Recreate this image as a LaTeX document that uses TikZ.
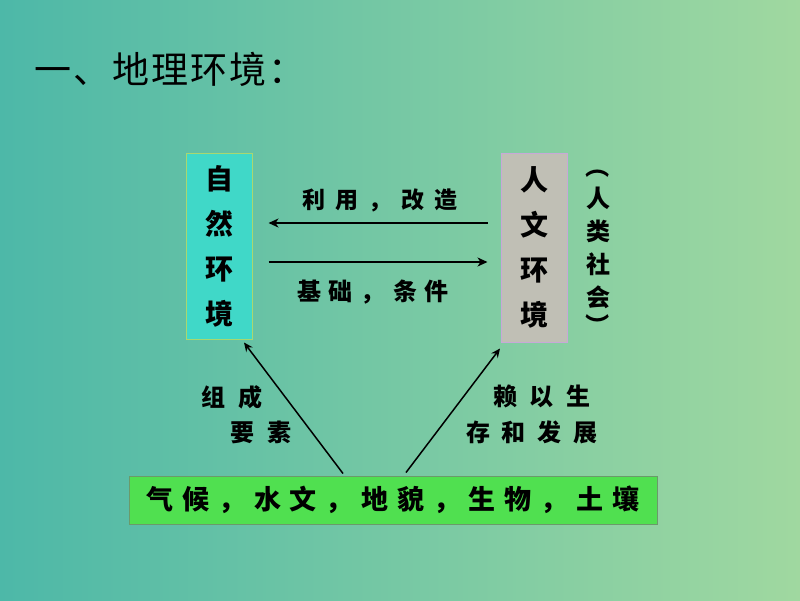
\documentclass[tikz,border=0pt]{standalone}
\usepackage{fontspec}
\setmainfont{Noto Sans CJK SC}
\usetikzlibrary{arrows.meta,calc}
\definecolor{bgL}{RGB}{77,184,168}
\definecolor{bgR}{RGB}{160,216,160}
\definecolor{natfill}{RGB}{64,216,200}
\definecolor{natdraw}{RGB}{168,216,112}
\definecolor{humfill}{RGB}{192,191,181}
\definecolor{humdraw}{RGB}{200,168,216}
\definecolor{botfill}{RGB}{80,224,80}
\definecolor{botdraw}{RGB}{106,154,106}
\makeatletter
\newcommand\spreadchars[2]{\@tfor\sp@c:=#2\do{\makebox[#1][c]{\sp@c}}}
\makeatother
\tikzset{
  vbox/.style={draw, line width=1pt, minimum width=66pt, inner sep=0pt, align=center,
     font=\bfseries\fontsize{28}{45}\selectfont},
  lbl/.style={inner sep=0pt, font=\bfseries\fontsize{24}{24}\selectfont},
  arr/.style={-{Stealth[length=10pt,width=9pt,inset=3pt]}, line width=1.8pt},
  darr/.style={-{Stealth[length=9pt,width=8pt,inset=3pt]}, line width=1.5pt}
}
\begin{document}
\begin{tikzpicture}[x=1pt,y=-1pt]
\shade[left color=bgL, right color=bgR] (0,0) rectangle (800,600);
\useasboundingbox (0,0) rectangle (800,600);
\node[anchor=west, inner sep=0pt, font=\fontsize{37}{37}\selectfont] (title) at (33,69) {\spreadchars{39pt}{一、地理环境：}};
\node[vbox, fill=natfill, draw=natdraw, minimum height=186pt] (nat) at (219,246) {自\\然\\环\\境};
\node[vbox, fill=humfill, draw=humdraw, minimum height=189pt] (hum) at (534,247.5) {人\\文\\环\\境};
\node[inner sep=0pt, align=center, font=\bfseries\fontsize{24}{33}\selectfont] (soc) at (598,248) {人\\类\\社\\会};
\node[lbl, rotate=-90] (pl) at (598,166) {（};
\node[lbl, rotate=-90] (pr) at (598,325) {）};
\node[lbl, font=\bfseries\fontsize{23}{23}\selectfont] (use) at (380,200) {\spreadchars{33pt}{利用，改造}};
\node[lbl] (base) at (373,292) {\spreadchars{32pt}{基础，条件}};
\node[draw=botdraw, line width=1pt, fill=botfill, minimum width=528pt, minimum height=48pt, inner sep=0pt,
      font=\bfseries\fontsize{27}{27}\selectfont] (bot) at (393,500) {\spreadchars{35.8pt}{气候，水文，地貌，生物，土壤}};
\coordinate (t1) at ($(hum.west)+(-13,-24.5)$);
\coordinate (t2) at ($(nat.east)+(16,0)$);
\draw[arr] (t1) -- (t1 -| t2);
\coordinate (b1) at ($(nat.east)+(16,16)$);
\coordinate (b2) at ($(hum.west)+(-13,0)$);
\draw[arr] (b1) -- (b1 -| b2);
\coordinate (l1) at ($(bot.north)+(-50,-2)$);
\coordinate (l2) at ($(nat.south)+(25,3)$);
\draw[darr] (l1) -- (l2);
\coordinate (r1) at ($(bot.north)+(13,-3)$);
\coordinate (r2) at ($(hum.south)+(-34,6)$);
\draw[darr] (r1) -- (r2);
\node[lbl] (z1) at (232,397) {\spreadchars{37pt}{组成}};
\node[lbl] (z2) at (261,432) {\spreadchars{37pt}{要素}};
\node[lbl] (y1) at (542,396) {\spreadchars{37pt}{赖以生}};
\node[lbl] (y2) at (532,432) {\spreadchars{36pt}{存和发展}};
\end{tikzpicture}
\end{document}
